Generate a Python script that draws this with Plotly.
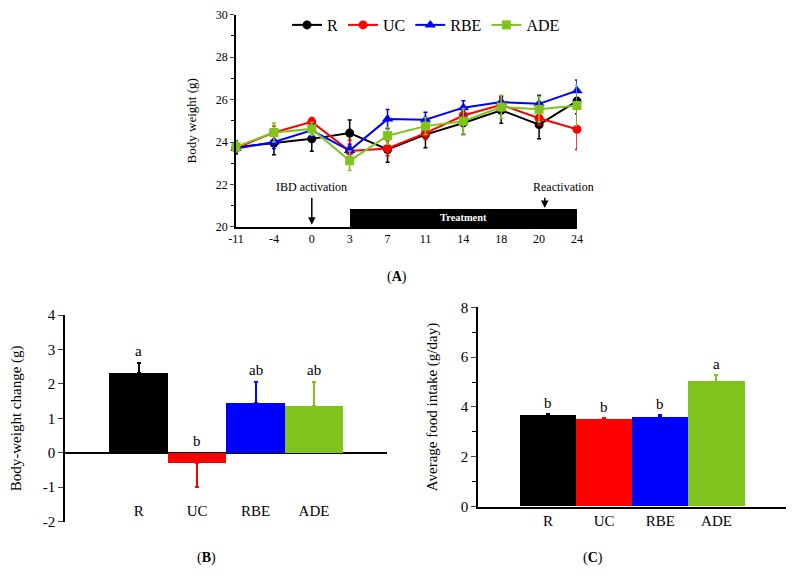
import plotly.graph_objects as go

# ---- data ----
days = ['-11', '-4', '0', '3', '7', '11', '14', '18', '20', '24']
groups = ['R', 'UC', 'RBE', 'ADE']
colors = ['#000000', '#ff0000', '#0000ff', '#7fc31c']
symbols = ['circle', 'circle', 'triangle-up', 'square']

bw_R = [23.75, 23.95, 24.15, 24.42, 23.65, 24.35, 24.9, 25.5, 24.82, 25.93]
bw_UC = [23.72, 24.45, 24.95, 23.58, 23.7, 24.42, 25.25, 25.75, 25.12, 24.6]
bw_RBE = [23.7, 24.0, 24.55, 23.6, 25.08, 25.05, 25.62, 25.88, 25.8, 26.42]
bw_ADE = [23.78, 24.45, 24.62, 23.12, 24.3, 24.75, 24.98, 25.65, 25.54, 25.72]
err_R = [0.3, 0.55, 0.58, 0.62, 0.6, 0.62, 0.55, 0.62, 0.66, 0.6]
err_UC = [0.2, 0.3, 0.2, 0.5, 0.35, 0.3, 0.3, 0.3, 0.3, 0.95]
err_RBE = [0.25, 0.3, 0.3, 0.3, 0.45, 0.35, 0.33, 0.3, 0.4, 0.5]
err_ADE = [0.25, 0.45, 0.3, 0.46, 0.4, 0.4, 0.6, 0.55, 0.6, 0.95]

change = [2.32, -0.3, 1.45, 1.35]
change_err = [0.3, 0.7, 0.6, 0.7]
change_letters = ['a', 'b', 'ab', 'ab']
change_ticks = [-2, -1, 0, 1, 2, 3, 4]
change_ticktext = ['-2', '-1', '0', '1', '2', '3', '4']

food = [3.65, 3.5, 3.6, 5.02]
food_err = [0.07, 0.05, 0.08, 0.27]
food_letters = ['b', 'b', 'b', 'a']

bw = [bw_R, bw_UC, bw_RBE, bw_ADE]
bw_err = [err_R, err_UC, err_RBE, err_ADE]

FONT = 'Liberation Serif, Times New Roman, serif'
fig = go.Figure()

# ---- panel A ----
xi = list(range(len(days)))
for g, ys, es, c, s in zip(groups, bw, bw_err, colors, symbols):
    fig.add_trace(go.Scatter(
        x=xi, y=ys, name=g, mode='lines+markers', cliponaxis=False,
        line=dict(color=c, width=2),
        marker=dict(color=c, symbol=s, size=9 if s != 'triangle-up' else 10),
        error_y=dict(type='data', array=es, color=c, thickness=1.5, width=2),
        xaxis='x', yaxis='y'))

# treatment bar from day 3 to day 24
fig.add_trace(go.Bar(
    x=[(xi[3] + xi[-1]) / 2], y=[0.88], base=[20], width=[xi[-1] - xi[3]],
    marker=dict(color='black', line=dict(width=0)), showlegend=False,
    text=['<b>Treatment</b>'], textposition='inside', insidetextanchor='middle',
    textfont=dict(color='white', size=13, family=FONT),
    hoverinfo='skip', xaxis='x', yaxis='y'))

# ---- panel B and C, one trace per group so error bars take the bar colour ----
for i, g in enumerate(groups):
    v, e = change[i], change_err[i]
    fig.add_trace(go.Bar(
        x=[i], y=[v], width=1, marker=dict(color=colors[i], line=dict(width=0)),
        error_y=dict(type='data', symmetric=False,
                     array=[e if v > 0 else 0], arrayminus=[e if v < 0 else 0],
                     color=colors[i], thickness=2, width=2),
        showlegend=False, xaxis='x2', yaxis='y2'))
    fig.add_trace(go.Bar(
        x=[i], y=[food[i]], width=1, marker=dict(color=colors[i], line=dict(width=0)),
        error_y=dict(type='data', symmetric=False, array=[food_err[i]], arrayminus=[0],
                     color=colors[i], thickness=2, width=2),
        showlegend=False, xaxis='x3', yaxis='y3'))

ann = []
for i, (v, e, t) in enumerate(zip(change, change_err, change_letters)):
    top = v + e if v > 0 else 0
    ann.append(dict(x=i, y=top, text=t, xref='x2', yref='y2', showarrow=False,
                    yanchor='bottom', yshift=2, font=dict(size=15, family=FONT, color='black')))
for i, (v, e, t) in enumerate(zip(food, food_err, food_letters)):
    ann.append(dict(x=i, y=v + e, text=t, xref='x3', yref='y3', showarrow=False,
                    yanchor='bottom', yshift=1, font=dict(size=15, family=FONT, color='black')))

# arrows and labels in panel A
ann.append(dict(x=2, y=20.1, ax=2, ay=21.45, xref='x', yref='y', axref='x', ayref='y',
                showarrow=True, arrowhead=2, arrowsize=1, arrowwidth=1.5, arrowcolor='black', text=''))
ann.append(dict(x=2, y=21.45, text='IBD activation', xref='x', yref='y', showarrow=False,
                yanchor='bottom', font=dict(size=12, family=FONT, color='black')))
ann.append(dict(x=8.15, y=20.9, ax=8.15, ay=21.45, xref='x', yref='y', axref='x', ayref='y',
                showarrow=True, arrowhead=2, arrowsize=1, arrowwidth=1.5, arrowcolor='black', text=''))
ann.append(dict(x=8.65, y=21.45, text='Reactivation', xref='x', yref='y', showarrow=False,
                yanchor='bottom', font=dict(size=12, family=FONT, color='black')))
ann.append(dict(x=9.3, y=20, text='day', xref='x', yref='y', showarrow=False,
                xanchor='left', yanchor='top', yshift=-3, font=dict(size=13, family=FONT, color='black')))

# panel letters
ann.append(dict(x=0.4949, y=0.533, text='(<b>A</b>)', xref='paper', yref='paper', showarrow=False,
                font=dict(size=14, family=FONT, color='black')))
ann.append(dict(x=0.2379, y=0.028, text='(<b>B</b>)', xref='paper', yref='paper', showarrow=False,
                font=dict(size=14, family=FONT, color='black')))
ann.append(dict(x=0.7595, y=0.028, text='(<b>C</b>)', xref='paper', yref='paper', showarrow=False,
                font=dict(size=14, family=FONT, color='black')))

axis_common = dict(showgrid=False, zeroline=False, showline=True, linecolor='black',
                   linewidth=1.5, automargin=False, ticklabeloverflow='allow',
                   tickfont=dict(family=FONT, size=12, color='black'))

# page body keeps an 8px margin, so the figure is 8px smaller each way
fig.update_layout(
    width=786, height=576, margin=dict(l=0, r=0, t=0, b=0, autoexpand=False),
    paper_bgcolor='white', plot_bgcolor='white', bargap=0,
    font=dict(family=FONT, color='black'),
    legend=dict(orientation='h', x=0.355, y=0.9705, yanchor='middle', xanchor='left',
                bgcolor='rgba(0,0,0,0)', font=dict(size=16, family=FONT),
                itemwidth=30, tracegroupgap=0),
    annotations=ann,
    xaxis=dict(axis_common, domain=[0.2901, 0.7239], range=[0, 9], tickmode='array',
               tickvals=xi, ticktext=days, ticks='', anchor='y'),
    yaxis=dict(axis_common, domain=[0.6198, 0.9885], range=[20, 30], dtick=2,
               ticks='outside', ticklen=4, anchor='x',
               minor=dict(dtick=1, ticks='outside', ticklen=3, tickcolor='black'),
               title=dict(text='Body weight (g)', font=dict(size=13, family=FONT), standoff=16)),
    xaxis2=dict(axis_common, domain=[0.0725, 0.4822], range=[-1.26, 4.25], tickmode='array',
                tickvals=list(range(4)), ticktext=groups, ticks='', showline=False,
                ticklabelposition='inside', anchor='y2',
                tickfont=dict(family=FONT, size=15, color='black')),
    yaxis2=dict(axis_common, domain=[0.1082, 0.467], range=[-2, 4], tickmode='array',
                tickvals=change_ticks, ticktext=change_ticktext,
                ticks='outside', ticklen=5, anchor='x2',
                zeroline=True, zerolinecolor='black', zerolinewidth=1.5,
                tickfont=dict(family=FONT, size=15, color='black'),
                title=dict(text='Body-weight change (g)', font=dict(size=15, family=FONT), standoff=24)),
    xaxis3=dict(axis_common, domain=[0.598, 0.9907], range=[-1.245, 4.25], tickmode='array',
                tickvals=list(range(4)), ticktext=groups, ticks='', anchor='y3',
                tickfont=dict(family=FONT, size=15, color='black')),
    yaxis3=dict(axis_common, domain=[0.1342, 0.4804], range=[0, 8], dtick=2,
                ticks='outside', ticklen=5, anchor='x3',
                minor=dict(dtick=1, ticks='outside', ticklen=4, tickcolor='black'),
                tickfont=dict(family=FONT, size=15, color='black'),
                title=dict(text='Average food intake (g/day)', font=dict(size=15, family=FONT), standoff=20)),
)

fig.write_html('out.html')
